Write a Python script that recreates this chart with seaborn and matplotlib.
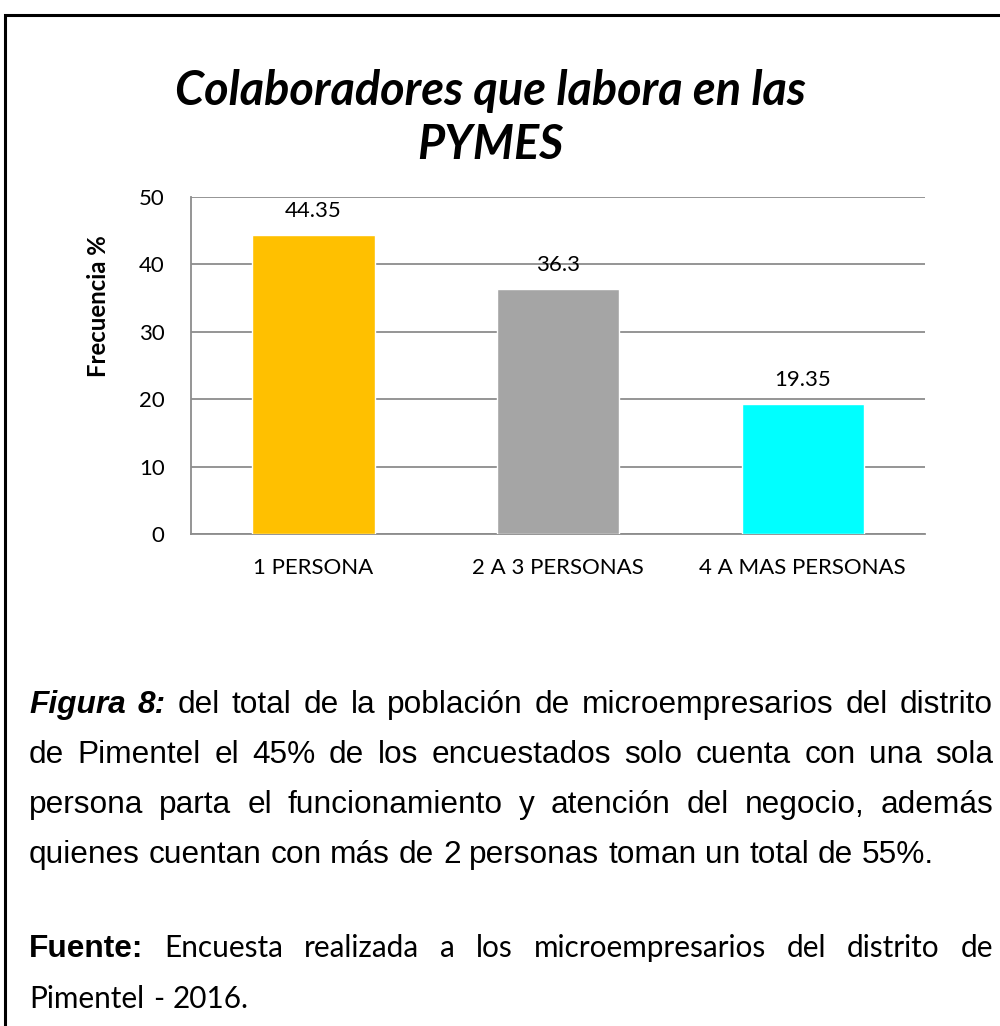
import matplotlib
matplotlib.use("Agg")
import matplotlib.pyplot as plt
import seaborn as sns
import pandas as pd
from matplotlib.patches import Rectangle

# datos del grafico
categorias = ["1 PERSONA", "2 A 3 PERSONAS", "4 A MAS PERSONAS"]
valores = [44.35, 36.3, 19.35]
etiquetas = ["44.35", "36.3", "19.35"]
colores = ["#FFC000", "#A5A5A5", "#00FFFF"]
ticks_y = [0, 10, 20, 30, 40, 50]

titulo = "Colaboradores que labora en las\nPYMES"
etiqueta_y = "Frecuencia %"

# texto del pie de figura (linea por linea, como en el original)
lineas_figura = [
    [("Figura 8:", "bi"), ("del total de la población de microempresarios del distrito", "r")],
    [("de Pimentel el 45% de los encuestados solo cuenta con una sola", "r")],
    [("persona parta el funcionamiento y atención del negocio, además", "r")],
    [("quienes cuentan con más de 2 personas toman un total de 55%.", "r")],
]
lineas_fuente = [
    [("Fuente:", "b"), ("Encuesta realizada a los microempresarios del distrito de", "c")],
    [("Pimentel - 2016.", "c")],
]

sns.set_style("white")
plt.rcParams["font.family"] = ["Lato", "DejaVu Sans"]

df = pd.DataFrame({"categoria": categorias, "valor": valores})

fig = plt.figure(figsize=(10, 10.26), dpi=100)
renderer = fig.canvas.get_renderer()


def tam_para_ancho(texto, ancho_px, **kw):
    # tamaño de fuente para que el texto ocupe ancho_px
    t = fig.text(0, 0, texto, fontsize=10, **kw)
    w = t.get_window_extent(renderer).width
    t.remove()
    return 10 * ancho_px / w


tam_ticks = tam_para_ancho("1 PERSONA", 120)
tam_ylab = tam_para_ancho("Frecuencia %", 142, fontweight="bold")
tam_titulo = tam_para_ancho("Colaboradores que labora en las", 630,
                            fontweight="bold", fontstyle="italic")
tam_c = tam_para_ancho("microempresarios", 234)

ax = fig.add_axes([0.191, 1 - 534 / 1026, 0.734, (534 - 197) / 1026])

sns.barplot(data=df, x="categoria", y="valor", hue="categoria", palette=colores,
            width=0.5, legend=False, saturation=1, ax=ax, zorder=3)

ax.set_ylim(0, 50)
ax.set_yticks(ticks_y)
ax.set_xlim(-0.5, len(categorias) - 0.5)
ax.yaxis.grid(True, color="#8C8C8C", linewidth=1.3, zorder=0)
ax.set_axisbelow(True)
for s in ["top", "right"]:
    ax.spines[s].set_visible(False)
for s in ["left", "bottom"]:
    ax.spines[s].set_color("#8C8C8C")
    ax.spines[s].set_linewidth(1.3)

# ticks del eje x en los limites de cada categoria
ax.set_xticks(range(len(categorias)))
ax.set_xticklabels(categorias)
ax.set_xticks([i - 0.5 for i in range(len(categorias) + 1)], minor=True)
ax.tick_params(axis="x", which="major", length=0, pad=17, labelsize=tam_ticks, labelcolor="black")
ax.tick_params(axis="x", which="minor", length=8, width=1.3, color="#8C8C8C", direction="out")
ax.tick_params(axis="y", length=8, width=1.3, color="#8C8C8C", direction="out", pad=11,
               labelsize=tam_ticks, labelcolor="black")
ax.set_xlabel("")
ax.set_ylabel(etiqueta_y, fontsize=tam_ylab, fontweight="bold", color="black")
ax.yaxis.set_label_coords(-0.110, 0.677)

for i, (v, t) in enumerate(zip(valores, etiquetas)):
    ax.annotate(t, (i, v), xytext=(0, 13), textcoords="offset points",
                ha="center", va="baseline", fontsize=tam_ticks, color="black")

fig.text(0.49, 1 - 118 / 1026, titulo, ha="center", va="center", fontsize=tam_titulo,
         fontweight="bold", fontstyle="italic", linespacing=1.3, color="black")

# marco de la figura
fig.patches.append(Rectangle((5 / 1000, -0.1), 1.2, 1.1 - 15 / 1026, transform=fig.transFigure,
                             fill=False, edgecolor="black", linewidth=2.2))

estilos = {
    "r": dict(family=["Liberation Sans", "DejaVu Sans"], size=22.8),
    "bi": dict(family=["Liberation Sans", "DejaVu Sans"], size=22.8, weight="bold", style="italic"),
    "b": dict(family=["Liberation Sans", "DejaVu Sans"], size=22.8, weight="bold"),
    "c": dict(family=["Lato", "DejaVu Sans"], size=tam_c),
}


def escribir_linea(segmentos, y_px, x0=29, x1=993, justificar=True):
    palabras = []
    for texto, est in segmentos:
        for p in texto.split(" "):
            palabras.append((p, est))
    objs = []
    anchos = []
    for p, est in palabras:
        t = fig.text(0, 0, p, ha="left", va="baseline", color="black", **estilos[est])
        anchos.append(t.get_window_extent(renderer).width)
        objs.append(t)
    if justificar and len(objs) > 1:
        hueco = (x1 - x0 - sum(anchos)) / (len(objs) - 1)
    else:
        hueco = 0.278 * 22.8 * 100 / 72
    x = x0
    for t, w in zip(objs, anchos):
        t.set_position((x / 1000, 1 - y_px / 1026))
        x += w + hueco


bases = [713, 763, 813, 863]
for i, linea in enumerate(lineas_figura):
    escribir_linea(linea, bases[i], justificar=(i < len(lineas_figura) - 1))

bases_f = [957, 1008]
for i, linea in enumerate(lineas_fuente):
    escribir_linea(linea, bases_f[i], justificar=(i < len(lineas_fuente) - 1))

fig.savefig("out.png", dpi=100)
